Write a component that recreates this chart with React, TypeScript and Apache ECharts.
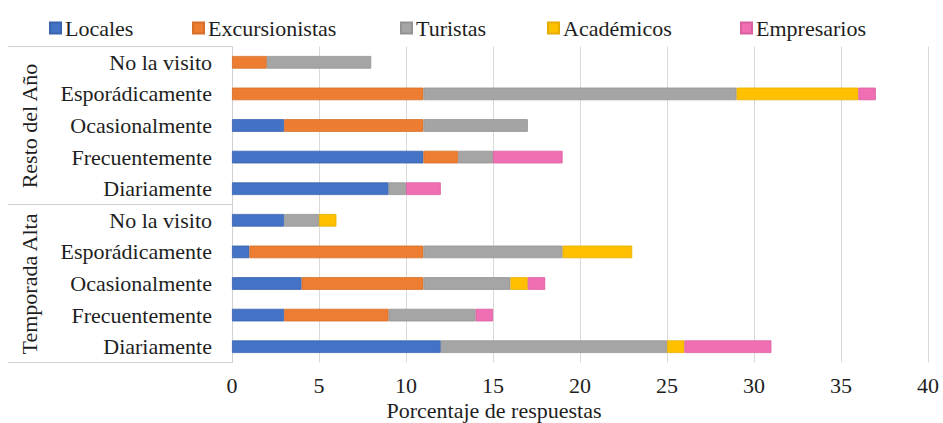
import React, { useEffect, useRef } from "react";
import * as echarts from "echarts";

// Categories, top to bottom
const categories = [
  "No la visito",
  "Esporádicamente",
  "Ocasionalmente",
  "Frecuentemente",
  "Diariamente",
  "No la visito",
  "Esporádicamente",
  "Ocasionalmente",
  "Frecuentemente",
  "Diariamente",
];
const groups = ["Resto del Año", "Temporada Alta"];

const seriesNames = ["Locales", "Excursionistas", "Turistas", "Académicos", "Empresarios"];
const locales = [0, 0, 3, 11, 9, 3, 1, 4, 3, 12];
const excursionistas = [2, 11, 8, 2, 0, 0, 10, 7, 6, 0];
const turistas = [6, 18, 6, 2, 1, 2, 8, 5, 5, 13];
const academicos = [0, 7, 0, 0, 0, 1, 4, 1, 0, 1];
const empresarios = [0, 1, 0, 4, 2, 0, 0, 1, 1, 5];
const seriesValues = [locales, excursionistas, turistas, academicos, empresarios];

const xTicks = { min: 0, max: 40, interval: 5 };
const xTitle = "Porcentaje de respuestas";

const colors = ["#4472C4", "#ED7D31", "#A5A5A5", "#FFC000", "#F06EB4"];
const borders = ["#3B65B0", "#D66F2A", "#939393", "#E6AD00", "#D9609F"];
const legendLeft = [44, 187, 395, 542, 735];

const FONT = "Liberation Serif";
const TEXT = "#1e1e1e";
const FS = 22;

export default function App() {
  const ref = useRef<HTMLDivElement>(null);
  useEffect(() => {
    if (!ref.current) return;
    const chart = echarts.init(ref.current, undefined, { renderer: "svg" });
    const option: any = {
      animation: false,
      textStyle: { fontFamily: FONT },
      grid: { left: 232, right: 15, top: 46.5, bottom: 60.5, containLabel: false },
      legend: seriesNames.map((name, i) => ({
        data: [name],
        left: legendLeft[i],
        top: 12,
        icon: "rect",
        itemWidth: 11,
        itemHeight: 11,
        itemGap: 0,
        selectedMode: false,
        textStyle: { fontFamily: FONT, fontSize: FS, color: TEXT, padding: [0, 0, 0, -1] },
      })),
      xAxis: {
        type: "value",
        min: xTicks.min,
        max: xTicks.max,
        interval: xTicks.interval,
        axisLine: { show: false },
        axisTick: { show: false },
        splitLine: { show: true, lineStyle: { color: "#d9d9d9", width: 1 } },
        axisLabel: { fontFamily: FONT, fontSize: FS, color: TEXT, margin: 12 },
      },
      yAxis: {
        type: "category",
        inverse: true,
        data: categories,
        axisLine: { show: true, lineStyle: { color: "#d0d0d0", width: 1 } },
        axisTick: {
          show: true,
          length: 224,
          interval: (index: number) => index % 5 === 0,
          lineStyle: { color: "#d0d0d0", width: 1 },
        },
        axisLabel: { fontFamily: FONT, fontSize: FS, color: TEXT, margin: 20, interval: 0 },
      },
      graphic: [
        ...groups.map((g, i) => ({
          type: "text",
          x: 29,
          y: i === 0 ? 126 : 284,
          rotation: Math.PI / 2,
          style: {
            text: g,
            fontFamily: FONT,
            fontSize: FS,
            fill: TEXT,
            textAlign: "center",
            textVerticalAlign: "middle",
          },
        })),
        {
          type: "text",
          x: 494,
          y: 410,
          style: {
            text: xTitle,
            fontFamily: FONT,
            fontSize: FS,
            fill: TEXT,
            textAlign: "center",
            textVerticalAlign: "middle",
          },
        },
      ],
      series: seriesNames.map((name, i) => ({
        name,
        type: "bar",
        stack: "total",
        barWidth: "40%",
        data: seriesValues[i].map((v) => (v === 0 ? null : v)),
        itemStyle: { color: colors[i], borderColor: borders[i], borderWidth: 0.8 },
      })),
    };
    chart.setOption(option);
    return () => chart.dispose();
  }, []);
  return (
    <div
      ref={ref}
      style={{ position: "fixed", left: 0, top: 0, width: 943, height: 423, background: "#fff" }}
    />
  );
}
